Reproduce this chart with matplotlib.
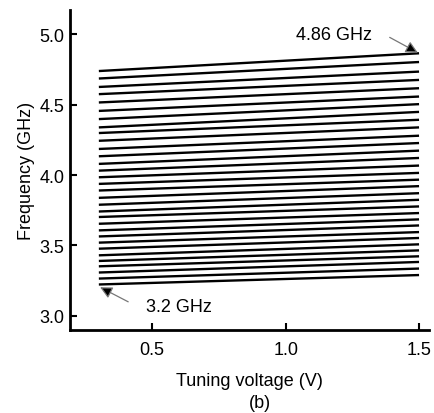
import matplotlib
matplotlib.use("Agg")
from matplotlib import pyplot as plt

plt.rcParams['font.family'] = ['Liberation Sans', 'DejaVu Sans']

# tuning voltage range of each band (V)
v_start = 0.3
v_end = 1.5

# frequency of each band at the start / end of the tuning range (GHz)
f_start = [4.738, 4.685, 4.625, 4.574, 4.515, 4.455, 4.397, 4.338, 4.298, 4.243,
           4.185, 4.133, 4.079, 4.031, 3.984, 3.937, 3.890, 3.838, 3.789, 3.741,
           3.702, 3.654, 3.607, 3.564, 3.520, 3.477, 3.430, 3.390, 3.352, 3.308,
           3.265, 3.223]
f_end = [4.864, 4.802, 4.734, 4.675, 4.616, 4.557, 4.503, 4.448, 4.392, 4.338,
         4.279, 4.227, 4.173, 4.121, 4.067, 4.015, 3.967, 3.921, 3.871, 3.824,
         3.777, 3.730, 3.685, 3.642, 3.595, 3.553, 3.508, 3.465, 3.423, 3.383,
         3.336, 3.290]

xticks = [0.5, 1.0, 1.5]
yticks = [3.0, 3.5, 4.0, 4.5, 5.0]

fig = plt.figure(figsize=(4.35, 4.14), dpi=100)
ax = fig.add_axes([0.161, 0.2005, 0.825, 0.7725])

for fs, fe in zip(f_start, f_end):
    ax.plot([v_start, v_end], [fs, fe], color='black', lw=1.7, solid_capstyle='butt')

ax.set_xlim(0.192, 1.537)
ax.set_ylim(2.90, 5.17)
ax.set_xticks(xticks)
ax.set_xticklabels(['%.1f' % t for t in xticks])
ax.set_yticks(yticks)
ax.set_yticklabels(['%.1f' % t for t in yticks])
ax.tick_params(direction='in', length=5, width=1.5, labelsize=13, pad=4)
ax.tick_params(axis='x', pad=8)

for s in ['top', 'right']:
    ax.spines[s].set_visible(False)
for s in ['left', 'bottom']:
    ax.spines[s].set_linewidth(2)

ax.set_xlabel('Tuning voltage (V)', fontsize=13, labelpad=10)
ax.set_ylabel('Frequency (GHz)', fontsize=13, labelpad=3)

arrow = dict(arrowstyle='-|>', ec='#777777', fc='black', lw=0.9,
             mutation_scale=18, shrinkA=0, shrinkB=1)
ax.text(1.18, 5.0, '4.86 GHz', fontsize=13, ha='center', va='center')
ax.annotate('', xy=(v_end, f_end[0]), xytext=(1.39, 4.977), arrowprops=arrow)
ax.text(0.60, 3.066, '3.2 GHz', fontsize=13, ha='center', va='center')
ax.annotate('', xy=(v_start, f_start[-1] - 0.015), xytext=(0.41, 3.10), arrowprops=arrow)

fig.text(0.598, 0.026, '(b)', fontsize=13, ha='center', va='center')

fig.savefig('out.png', dpi=100)
